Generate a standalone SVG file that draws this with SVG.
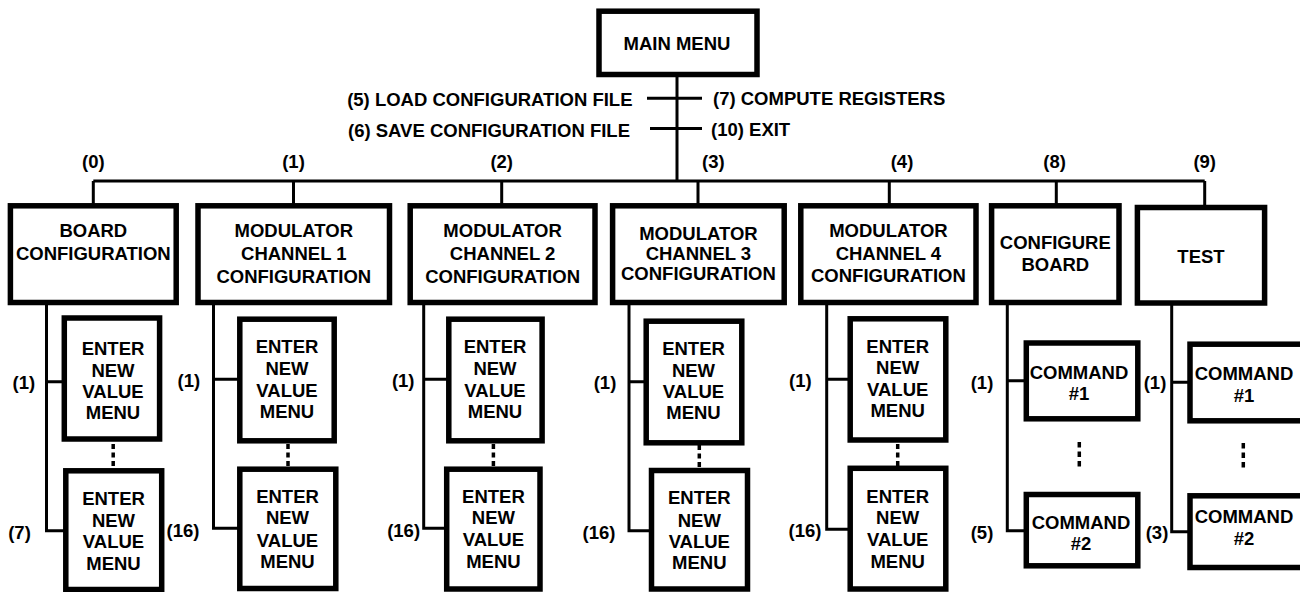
<svg xmlns="http://www.w3.org/2000/svg" width="1300" height="592" viewBox="0 0 1300 592">
<style>
.box{fill:#fff;stroke:#000;stroke-width:5.5}
.ln{fill:none;stroke:#000;stroke-width:3}
.dt{fill:none;stroke:#000;stroke-width:3.5;stroke-dasharray:5 3.5}
.dt2{fill:none;stroke:#000;stroke-width:3.5;stroke-dasharray:5.5 4}
text{font-family:"Liberation Sans",Arial,Helvetica,sans-serif;font-weight:bold;font-size:18.5px;fill:#000;text-anchor:middle}
.r{text-anchor:end}
.l{text-anchor:start}
</style>
<rect width="1300" height="592" fill="#fff"/>
<g id="connectors">
<path class="ln" d="M677 77V181M647 98.3H702M650 128.5H702M93.3 181H1204.7"/>
<path class="ln" d="M93.3 181V204M293.5 181V204M501.7 181V204M698 181V204M889.3 181V204M1056.3 181V204M1204.7 181V205"/>
<path class="ln" d="M46.5 304V530.7H64M46.5 381.7H62"/>
<path class="ln" d="M213.5 304V528.3H240M213.5 379.3H238"/>
<path class="ln" d="M423.7 304V528.3H445M423.7 379.3H447"/>
<path class="ln" d="M629 304V530.7H650M629 381.7H644"/>
<path class="ln" d="M826.7 304V529.3H849M826.7 379.3H849"/>
<path class="ln" d="M1007.3 304V530.7H1025M1007.3 380.7H1025"/>
<path class="ln" d="M1171.7 305V531.7H1189M1171.7 382.3H1189"/>
<path class="dt" d="M113.2 444V466M288 444V466M493.4 444V466M699.3 445V467M897.7 444V466"/>
<path class="dt2" d="M1079.3 442V466.5M1243.3 443V467.5"/>
<text class="r" x="632.5" y="106">(5) LOAD CONFIGURATION FILE</text>
<text class="r" x="630" y="137">(6) SAVE CONFIGURATION FILE</text>
<text class="l" x="713" y="105">(7) COMPUTE REGISTERS</text>
<text class="l" x="711" y="136">(10) EXIT</text>
<text x="93.3" y="167.5">(0)</text>
<text x="293.5" y="167.5">(1)</text>
<text x="501.7" y="167.5">(2)</text>
<text x="713.3" y="167.5">(3)</text>
<text x="902" y="167.5">(4)</text>
<text x="1054.6" y="167.5">(8)</text>
<text x="1204.7" y="167.5">(9)</text>
<text x="23.8" y="388.5">(1)</text>
<text x="19.5" y="538.5">(7)</text>
<text x="188.8" y="386.5">(1)</text>
<text x="183" y="536.5">(16)</text>
<text x="403.2" y="386.5">(1)</text>
<text x="403.6" y="536.5">(16)</text>
<text x="605" y="388.5">(1)</text>
<text x="599" y="538.5">(16)</text>
<text x="800.3" y="386.5">(1)</text>
<text x="805" y="536.5">(16)</text>
<text x="982" y="388.5">(1)</text>
<text x="982" y="538.5">(5)</text>
<text x="1155" y="389">(1)</text>
<text x="1157" y="539">(3)</text>
</g>
<g id="main-menu">
<rect class="box" x="599" y="11.2" width="158" height="63.3"/>
<text x="677" y="50">MAIN MENU</text>
</g>
<g id="board-config">
<rect class="box" x="10.4" y="205.8" width="165.8" height="96.7"/>
<text x="93.3" y="237">BOARD</text>
<text x="93.3" y="260">CONFIGURATION</text>
</g>
<g id="mod-ch1">
<rect class="box" x="198" y="205.8" width="191.5" height="96.7"/>
<text x="293.8" y="237">MODULATOR</text>
<text x="293.8" y="260">CHANNEL 1</text>
<text x="293.8" y="283">CONFIGURATION</text>
</g>
<g id="mod-ch2">
<rect class="box" x="410.2" y="205.8" width="184.8" height="96.7"/>
<text x="502.6" y="237">MODULATOR</text>
<text x="502.6" y="260">CHANNEL 2</text>
<text x="502.6" y="283">CONFIGURATION</text>
</g>
<g id="mod-ch3">
<rect class="box" x="612.6" y="205.8" width="171.6" height="96.7"/>
<text x="698.4" y="240">MODULATOR</text>
<text x="698.4" y="260">CHANNEL 3</text>
<text x="698.4" y="280">CONFIGURATION</text>
</g>
<g id="mod-ch4">
<rect class="box" x="800.8" y="205.8" width="175.2" height="96.7"/>
<text x="888.4" y="237">MODULATOR</text>
<text x="888.4" y="260">CHANNEL 4</text>
<text x="888.4" y="282">CONFIGURATION</text>
</g>
<g id="configure-board">
<rect class="box" x="991.6" y="205.8" width="127.4" height="96.7"/>
<text x="1055.3" y="249">CONFIGURE</text>
<text x="1055.3" y="271">BOARD</text>
</g>
<g id="test">
<rect class="box" x="1137.4" y="207.5" width="127.2" height="95.5"/>
<text x="1201" y="263">TEST</text>
</g>
<g id="board-enter-1">
<rect class="box" x="64.3" y="318" width="95.3" height="121"/>
<text x="113" y="355">ENTER</text><text x="113" y="376.7">NEW</text><text x="113" y="398.3">VALUE</text><text x="113" y="419.3">MENU</text>
</g>
<g id="board-enter-7">
<rect class="box" x="65.8" y="470.8" width="95.9" height="118.7"/>
<text x="113.5" y="505">ENTER</text><text x="113.5" y="526.7">NEW</text><text x="113.5" y="548">VALUE</text><text x="113.5" y="570">MENU</text>
</g>
<g id="ch1-enter-1">
<rect class="box" x="239.8" y="319.2" width="94.4" height="121.6"/>
<text x="287" y="353.3">ENTER</text><text x="287" y="375">NEW</text><text x="287" y="396.7">VALUE</text><text x="287" y="418">MENU</text>
</g>
<g id="ch1-enter-16">
<rect class="box" x="239.8" y="469.2" width="96" height="119.3"/>
<text x="287.5" y="503">ENTER</text><text x="287.5" y="524.3">NEW</text><text x="287.5" y="546.5">VALUE</text><text x="287.5" y="567.7">MENU</text>
</g>
<g id="ch2-enter-1">
<rect class="box" x="448.8" y="319.2" width="93.3" height="121.6"/>
<text x="495" y="353.3">ENTER</text><text x="495" y="375">NEW</text><text x="495" y="396.7">VALUE</text><text x="495" y="418">MENU</text>
</g>
<g id="ch2-enter-16">
<rect class="box" x="446.7" y="469.2" width="93.3" height="119.8"/>
<text x="493.4" y="503">ENTER</text><text x="493.4" y="524">NEW</text><text x="493.4" y="546">VALUE</text><text x="493.4" y="567.5">MENU</text>
</g>
<g id="ch3-enter-1">
<rect class="box" x="646.2" y="321.2" width="95.6" height="121.6"/>
<text x="693.5" y="355">ENTER</text><text x="693.5" y="376.7">NEW</text><text x="693.5" y="398.3">VALUE</text><text x="693.5" y="419.3">MENU</text>
</g>
<g id="ch3-enter-16">
<rect class="box" x="651.5" y="470.5" width="96" height="118.5"/>
<text x="699.3" y="504">ENTER</text><text x="699.3" y="526.7">NEW</text><text x="699.3" y="548.3">VALUE</text><text x="699.3" y="569.3">MENU</text>
</g>
<g id="ch4-enter-1">
<rect class="box" x="850.2" y="318.8" width="95.6" height="121.2"/>
<text x="897.7" y="352.7">ENTER</text><text x="897.7" y="374">NEW</text><text x="897.7" y="396">VALUE</text><text x="897.7" y="417.3">MENU</text>
</g>
<g id="ch4-enter-16">
<rect class="box" x="850.2" y="468.3" width="95.6" height="120.7"/>
<text x="897.7" y="502.7">ENTER</text><text x="897.7" y="524">NEW</text><text x="897.7" y="546">VALUE</text><text x="897.7" y="567.7">MENU</text>
</g>
<g id="cfg-command-1">
<rect class="box" x="1026.3" y="343" width="111.5" height="75.8"/>
<text x="1079" y="379">COMMAND</text><text x="1079" y="400">#1</text>
</g>
<g id="cfg-command-2">
<rect class="box" x="1026.3" y="494.5" width="111.5" height="71.3"/>
<text x="1081" y="529">COMMAND</text><text x="1081" y="550">#2</text>
</g>
<g id="test-command-1">
<rect class="box" x="1190" y="344.2" width="120" height="76.6"/>
<text x="1244" y="380">COMMAND</text><text x="1244" y="401.7">#1</text>
</g>
<g id="test-command-2">
<rect class="box" x="1190" y="495.8" width="120" height="71.7"/>
<text x="1244" y="523.3">COMMAND</text><text x="1244" y="545">#2</text>
</g>
</svg>
